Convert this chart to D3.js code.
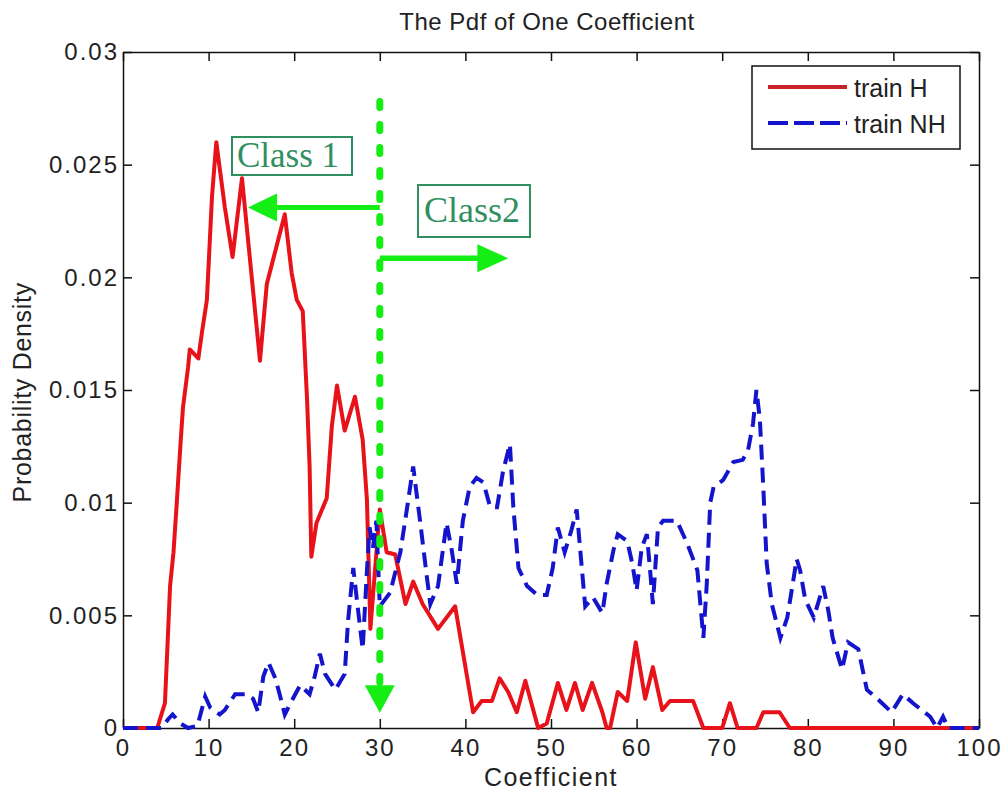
<!DOCTYPE html>
<html>
<head>
<meta charset="utf-8">
<script src="https://cdn.jsdelivr.net/npm/d3@7"></script>
<style>
  html, body { margin: 0; padding: 0; background: #fff; }
  svg { display: block; }
  .axis text { font-family: "Liberation Sans", Arial, sans-serif; font-size: 24px; fill: #222; letter-spacing: 2px; }
  .axis path, .axis line { stroke: #111; stroke-width: 1.5px; }
</style>
</head>
<body>
<div id="chart"></div>
<script>
// train H (solid red)
const hX = [0, 4, 4.9, 5.5, 5.9, 6.3, 6.7, 7.0, 7.6, 7.8, 8.8, 9.2, 9.8, 10.4, 10.9, 11.9, 12.8, 13.9,
  16.0, 16.8, 18.9, 19.7, 20.3, 21.0, 21.5, 21.8, 22.0, 22.6, 23.8, 24.4, 25.0, 25.9, 27.1, 28.0,
  28.5, 28.9, 30.0, 30.8, 31.8, 33.0, 33.9, 35.0, 36.8, 38.8, 40.9, 41.9, 43.1, 44.0, 45.0, 46.0,
  47.0, 48.5, 49.5, 50.8, 51.8, 52.8, 53.7, 54.8, 56.0, 56.5, 56.9, 57.8, 58.9, 59.9, 61.0, 61.9,
  63.0, 63.9, 66.6, 67.8, 70.0, 70.9, 71.8, 74.0, 74.8, 76.7, 77.9, 100];
const hY = [0, 0, 0.0011, 0.0063, 0.0078, 0.0101, 0.0125, 0.0142, 0.016, 0.0168, 0.0164, 0.0175, 0.019,
  0.0236, 0.026, 0.0231, 0.0209, 0.0244, 0.0163, 0.0197, 0.0228, 0.0202, 0.019, 0.0185, 0.0146, 0.0116,
  0.0076, 0.0091, 0.0102, 0.0134, 0.0152, 0.0132, 0.0147, 0.0128, 0.0101, 0.0044, 0.0097, 0.0078,
  0.0077, 0.0055, 0.0065, 0.0055, 0.0044, 0.0054, 0.0007, 0.0012, 0.0012, 0.0022, 0.0016, 0.0007,
  0.0021, 0, 0.0002, 0.002, 0.0008, 0.002, 0.0008, 0.002, 0.0007, 0, 0, 0.0016, 0.0012, 0.0038,
  0.0013, 0.0027, 0.0008, 0.0012, 0.0012, 0, 0, 0.0011, 0, 0, 0.0007, 0.0007, 0, 0];

// train NH (dashed blue)
const nhX = [0, 4.5, 5.3, 5.8, 6.7, 7.6, 8.7, 9.6, 10.2, 11.3, 11.9, 13.1, 14.5, 15.2, 15.8, 16.4, 17.0,
  17.8, 18.3, 18.9, 19.7, 20.7, 21.8, 22.4, 23.0, 23.6, 24.8, 25.9, 26.3, 26.9, 27.5, 28.0, 28.5, 28.8,
  29.2, 29.6, 30.0, 31.2, 32.4, 33.2, 33.9, 34.7, 35.5, 35.9, 36.8, 37.8, 38.4, 39.0, 39.7, 40.5, 41.3,
  42.1, 42.9, 43.7, 44.4, 45.2, 45.6, 46.2, 47.2, 48.4, 49.5, 50.2, 50.8, 51.6, 52.4, 53.0, 53.6, 54.0,
  54.9, 56.0, 56.5, 57.3, 57.8, 58.9, 59.5, 60.0, 60.6, 61.2, 61.6, 61.9, 62.5, 63.1, 64.7, 65.9, 67.1,
  67.8, 68.2, 68.6, 69.0, 70.1, 71.3, 72.4, 73.0, 73.6, 74.0, 74.4, 74.8, 75.2, 75.8, 76.8, 77.6, 78.2,
  78.7, 79.1, 79.7, 80.7, 81.8, 82.4, 82.9, 84.0, 84.7, 85.9, 86.9, 88.4, 89.8, 91.1, 92.3, 94.3, 95.1,
  95.8, 96.4, 100];
const nhY = [0, 0, 0.0004, 0.0006, 0.0002, 0, 0.0001, 0.0014, 0.0009, 0.0006, 0.0008, 0.0015, 0.0015,
  0.0013, 0.0007, 0.0023, 0.0029, 0.0022, 0.0015, 0.0006, 0.0012, 0.0019, 0.0015, 0.0023, 0.0033,
  0.0024, 0.0017, 0.0024, 0.0048, 0.0071, 0.0051, 0.0035, 0.007, 0.0089, 0.008, 0.0092, 0.0054, 0.006,
  0.0078, 0.0098, 0.0116, 0.0092, 0.0067, 0.0055, 0.0063, 0.0091, 0.0079, 0.0064, 0.0092, 0.0107,
  0.0111, 0.0109, 0.0098, 0.0098, 0.0114, 0.0126, 0.0098, 0.0071, 0.0063, 0.0059, 0.0059, 0.0071,
  0.0089, 0.0078, 0.0088, 0.0097, 0.0071, 0.0054, 0.0058, 0.0051, 0.0064, 0.0079, 0.0086, 0.0083,
  0.0073, 0.0061, 0.008, 0.0086, 0.0069, 0.0055, 0.0089, 0.0092, 0.0092, 0.0082, 0.007, 0.004, 0.0064,
  0.01, 0.0107, 0.011, 0.0118, 0.0119, 0.0123, 0.0135, 0.015, 0.0137, 0.0107, 0.0073, 0.0055, 0.004,
  0.0049, 0.0063, 0.0075, 0.007, 0.0057, 0.0049, 0.0063, 0.0052, 0.004, 0.0026, 0.0038, 0.0035,
  0.0017, 0.0012, 0.0007, 0.0015, 0.0011, 0.0005, 0, 0.0005, 0, 0];

const seriesNames = ['train H', 'train NH'];
const xTicks = [0, 10, 20, 30, 40, 50, 60, 70, 80, 90, 100];
const yTicks = [0, 0.005, 0.01, 0.015, 0.02, 0.025, 0.03];
const threshold = 30;

const width = 1003, height = 801;
const margin = { top: 52, right: 24, bottom: 73, left: 123 };
const plotW = width - margin.left - margin.right;
const plotH = height - margin.top - margin.bottom;

const svg = d3.select('#chart').append('svg')
  .attr('width', width)
  .attr('height', height);

const x = d3.scaleLinear().domain([0, 100]).range([margin.left, margin.left + plotW]);
const y = d3.scaleLinear().domain([0, 0.03]).range([margin.top + plotH, margin.top]);

// axes, ticks pointing inward like matlab
svg.append('g').attr('class', 'axis')
  .attr('transform', `translate(0,${margin.top + plotH})`)
  .call(d3.axisBottom(x).tickValues(xTicks).tickSizeInner(-9).tickSizeOuter(0).tickPadding(11));
svg.append('g').attr('class', 'axis')
  .attr('transform', `translate(0,${margin.top})`)
  .call(d3.axisTop(x).tickValues(xTicks).tickSizeInner(-9).tickSizeOuter(0).tickFormat(''));
svg.append('g').attr('class', 'axis')
  .attr('transform', `translate(${margin.left},0)`)
  .call(d3.axisLeft(y).tickValues(yTicks).tickSizeInner(-9).tickSizeOuter(0).tickPadding(4)
    .tickFormat(d => String(d)));
svg.append('g').attr('class', 'axis')
  .attr('transform', `translate(${margin.left + plotW},0)`)
  .call(d3.axisRight(y).tickValues(yTicks).tickSizeInner(-9).tickSizeOuter(0).tickFormat(''));

// labels
const sans = '"Liberation Sans", Arial, sans-serif';
svg.append('text')
  .attr('x', 547).attr('y', 30)
  .attr('text-anchor', 'middle')
  .style('font-family', sans)
  .style('font-size', '24px')
  .style('letter-spacing', '0.5px')
  .attr('fill', '#222')
  .text('The Pdf of One Coefficient');
svg.append('text')
  .attr('x', x(50)).attr('y', 786)
  .attr('text-anchor', 'middle')
  .style('font-family', sans)
  .style('font-size', '25px')
  .style('letter-spacing', '1.5px')
  .attr('fill', '#222')
  .text('Coefficient');
svg.append('text')
  .attr('transform', `translate(31,${y(0.0149)}) rotate(-90)`)
  .attr('text-anchor', 'middle')
  .style('font-family', sans)
  .style('font-size', '25px')
  .style('letter-spacing', '0.7px')
  .attr('fill', '#222')
  .text('Probability Density');

// curves
const line = d3.line().x(d => x(d[0])).y(d => y(d[1]));
const hData = hX.map((v, i) => [v, hY[i]]);
const nhData = nhX.map((v, i) => [v, nhY[i]]);

svg.append('path')
  .datum(hData)
  .attr('d', line)
  .attr('fill', 'none')
  .attr('stroke', '#e8121a')
  .attr('stroke-width', 4)
  .attr('stroke-linejoin', 'round');

svg.append('path')
  .datum(nhData)
  .attr('d', line)
  .attr('fill', 'none')
  .attr('stroke', '#1414cc')
  .attr('stroke-width', 4)
  .attr('stroke-dasharray', '15,8');

// legend
const lg = svg.append('g');
lg.append('rect')
  .attr('x', 752).attr('y', 66).attr('width', 208).attr('height', 83)
  .attr('fill', '#fff').attr('stroke', '#111').attr('stroke-width', 1.5);
const legendColors = ['#c8232a', '#1414cc'];
seriesNames.forEach((name, i) => {
  const ly = 87 + i * 36;
  lg.append('line')
    .attr('x1', 768).attr('x2', 847).attr('y1', ly).attr('y2', ly)
    .attr('stroke', legendColors[i]).attr('stroke-width', 4)
    .attr('stroke-dasharray', i === 1 ? '20,6' : null);
  lg.append('text')
    .attr('x', 854).attr('y', ly + 10)
    .style('font-family', sans)
    .style('font-size', '25px')
    .attr('fill', '#222')
    .text(name);
});

// green threshold annotation
const green = '#14ee14';
const tx = x(threshold);
svg.append('line')
  .attr('x1', tx).attr('x2', tx)
  .attr('y1', y(0.0278)).attr('y2', y(0.0019))
  .attr('stroke', green).attr('stroke-width', 7)
  .attr('stroke-linecap', 'round')
  .attr('stroke-dasharray', '6,17');
svg.append('path')
  .attr('d', `M${tx - 15},${y(0.0019)} L${tx + 15},${y(0.0019)} L${tx},${y(0.00068)} Z`)
  .attr('fill', green);

// left arrow -> Class 1
const ly1 = y(0.0231);
svg.append('line')
  .attr('x1', tx).attr('x2', x(18)).attr('y1', ly1).attr('y2', ly1)
  .attr('stroke', green).attr('stroke-width', 5);
svg.append('path')
  .attr('d', `M${x(14.6)},${ly1} L${x(18)},${ly1 - 14} L${x(18)},${ly1 + 14} Z`)
  .attr('fill', green);

// right arrow -> Class2
const ly2 = y(0.02085);
svg.append('line')
  .attr('x1', tx).attr('x2', x(41.6)).attr('y1', ly2).attr('y2', ly2)
  .attr('stroke', green).attr('stroke-width', 5.5);
svg.append('path')
  .attr('d', `M${x(45)},${ly2} L${x(41.4)},${ly2 - 14} L${x(41.4)},${ly2 + 14} Z`)
  .attr('fill', green);

// class labels
const labelColor = '#2f8f5f';
function classLabel(text, bx, by, bw, bh, tx0, ty0, size) {
  svg.append('rect')
    .attr('x', bx).attr('y', by).attr('width', bw).attr('height', bh)
    .attr('fill', '#fff').attr('stroke', labelColor).attr('stroke-width', 2);
  svg.append('text')
    .attr('x', tx0).attr('y', ty0)
    .style('font-family', '"Liberation Serif", "Times New Roman", serif')
    .style('font-size', size + 'px')
    .attr('fill', labelColor)
    .text(text);
}
classLabel('Class 1', 232, 137, 120, 38, 237, 167, 35);
classLabel('Class2', 418, 185, 112, 52, 424, 222, 36);
</script>
</body>
</html>
